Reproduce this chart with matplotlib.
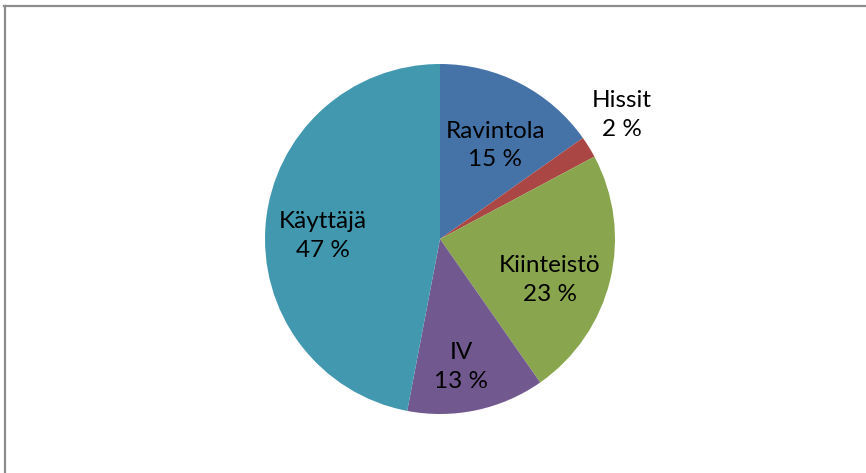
import numpy as np
import matplotlib
matplotlib.use('Agg')
import matplotlib.pyplot as plt
from matplotlib.lines import Line2D

categories = ['Ravintola', 'Hissit', 'Kiinteistö', 'IV', 'Käyttäjä']
shares = [15.2, 2.0, 23.1, 12.7, 47.0]
colors = ['#4572A7', '#AA4643', '#89A54E', '#71588F', '#4198AF']
# label radius (fraction of pie radius) and angle nudge in degrees
label_pos = [(0.62, -3.3), (1.26, 2.6), (0.67, -6.9), (0.74, -2.6), (0.67, 3.9)]

W, H = 866, 473
fig = plt.figure(figsize=(W / 100, H / 100), dpi=100)
ax = fig.add_axes([0, 0, 1, 1])

cx, cy, r = 440, H - 239, 175
wedges, _ = ax.pie(shares, colors=colors, startangle=90, counterclock=False,
                   radius=r, center=(cx, cy), frame=True,
                   wedgeprops=dict(linewidth=0))
ax.set_xlim(0, W)
ax.set_ylim(0, H)
ax.axis('off')

for w, name, val, (dist, nudge) in zip(wedges, categories, shares, label_pos):
    mid = np.deg2rad((w.theta1 + w.theta2) / 2 + nudge)
    x = cx + dist * r * np.cos(mid)
    y = cy + dist * r * np.sin(mid)
    ax.text(x, y, '%s\n%d %%' % (name, round(val)), ha='center', va='center',
            fontsize=17.5, family='Lato', color='black', linespacing=1.45)

# chart frame (only top and left edges visible)
fig.add_artist(Line2D([5 / W, 5 / W], [0, 1 - 6 / H], color='#8c8c8c', lw=1.6))
fig.add_artist(Line2D([4 / W, 1], [1 - 6 / H, 1 - 6 / H], color='#8c8c8c', lw=1.6))

fig.savefig('out.png', dpi=100)
